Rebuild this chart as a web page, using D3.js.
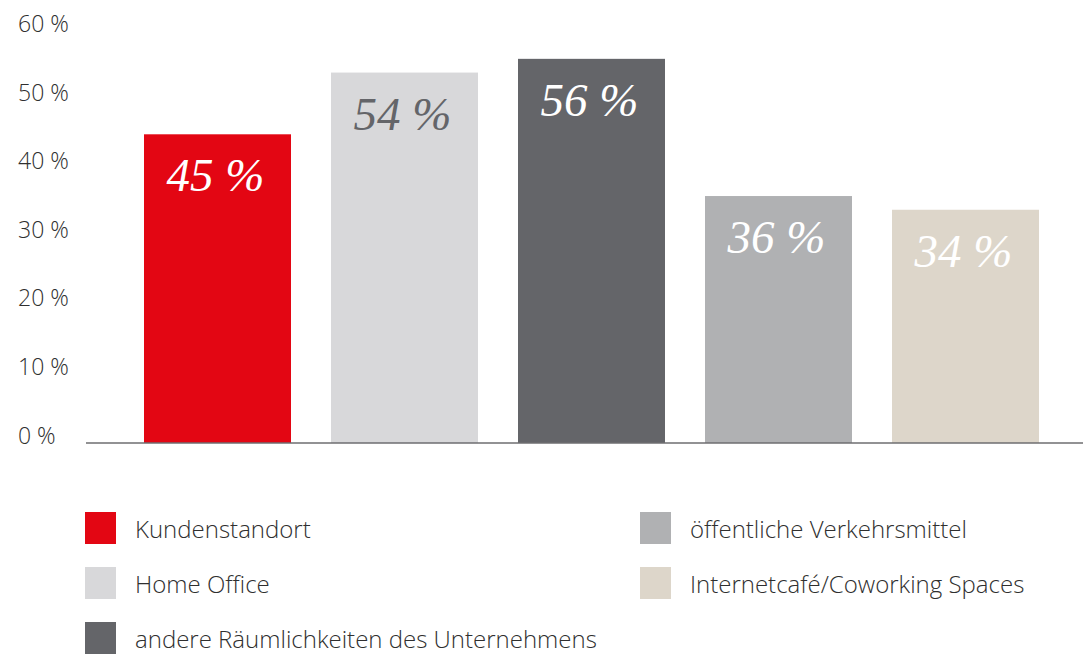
<!DOCTYPE html>
<html>
<head>
<meta charset="utf-8">
<script src="https://cdn.jsdelivr.net/npm/d3@7"></script>
<style>
  body { margin: 0; background: #fff; }
  svg { display: block; }
  .tick text, .legend text { font-family: "Open Sans", "Noto Sans", sans-serif; font-weight: 300; fill: #2f2f2f; }
  .val { font-family: "Liberation Serif", "Times New Roman", serif; font-style: italic; }
</style>
</head>
<body>
<div id="chart-container"></div>
<script>
// data
const categories = ['Kundenstandort', 'Home Office', 'andere Räumlichkeiten des Unternehmens', 'öffentliche Verkehrsmittel', 'Internetcafé/Coworking Spaces']
const values = [45, 54, 56, 36, 34]
const tickValues = [0, 10, 20, 30, 40, 50, 60]
const barColors = ['#e30613', '#d8d8da', '#646569', '#b0b1b3', '#ddd6ca']
const labelColors = ['#fff', '#646569', '#fff', '#fff', '#fff']

const width = 1083
const height = 654

const svg = d3.select('#chart-container')
  .append('svg')
  .attr('width', width)
  .attr('height', height)

const x = d3.scaleBand()
  .domain(categories)
  .range([124, 1059])
  .paddingInner(40 / 187)
  .paddingOuter(20 / 187)

const y = d3.scaleLinear()
  .domain([0, 60])
  .range([443, 443 - 60 * 6.86])

const color = d3.scaleOrdinal().domain(categories).range(barColors)
const labelColor = d3.scaleOrdinal().domain(categories).range(labelColors)

// y axis labels, left aligned, baseline sitting on the tick
const yAxis = svg.append('g')
  .attr('transform', 'translate(18,0)')
  .call(d3.axisLeft(y).tickValues(tickValues).tickSize(0).tickFormat(d => d + ' %'))
yAxis.select('.domain').remove()
yAxis.selectAll('.tick text')
  .attr('x', 0)
  .attr('dy', 0)
  .attr('text-anchor', 'start')
  .style('font-size', '23px')

// bars
svg.selectAll('rect.bar')
  .data(categories)
  .enter()
  .append('rect')
  .attr('class', 'bar')
  .attr('x', d => x(d))
  .attr('y', (d, i) => y(values[i]))
  .attr('width', x.bandwidth())
  .attr('height', (d, i) => y(0) - y(values[i]))
  .attr('fill', d => color(d))

// value labels
svg.selectAll('text.val')
  .data(categories)
  .enter()
  .append('text')
  .attr('class', 'val')
  .attr('x', d => x(d) + x.bandwidth() / 2 - 2)
  .attr('y', (d, i) => y(values[i]) + 57)
  .attr('text-anchor', 'middle')
  .style('font-size', '47px')
  .attr('fill', d => labelColor(d))
  .text((d, i) => values[i] + ' %')

// baseline
svg.append('line')
  .attr('x1', 86)
  .attr('x2', width)
  .attr('y1', y(0))
  .attr('y2', y(0))
  .attr('stroke', '#6e6e70')
  .attr('stroke-width', 1.5)

// legend: two columns
const legend = svg.append('g').attr('class', 'legend')
const colX = [85, 640]
const rowY = [512, 567, 622]
const items = legend.selectAll('g')
  .data(categories)
  .enter()
  .append('g')
  .attr('transform', (d, i) => {
    const col = i < 3 ? 0 : 1
    const row = i < 3 ? i : i - 3
    return `translate(${colX[col]}, ${rowY[row]})`
  })
items.append('rect')
  .attr('width', 31)
  .attr('height', 32)
  .attr('fill', d => color(d))
items.append('text')
  .attr('x', 50)
  .attr('y', 26)
  .style('font-size', '24px')
  .text(d => d)
</script>
</body>
</html>
